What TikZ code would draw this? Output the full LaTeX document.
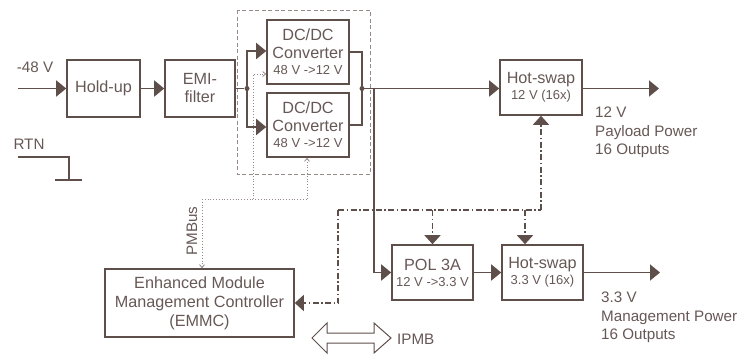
\documentclass[tikz,border=0pt]{standalone}
\usepackage{fontspec}
\setmainfont{Liberation Sans}
\usetikzlibrary{arrows.meta}
\definecolor{ink}{RGB}{94,79,75}
\definecolor{inktext}{RGB}{102,88,85}
\definecolor{soft}{RGB}{150,138,135}
\newcommand{\sm}{\fontsize{13}{15}\selectfont}
\begin{document}
\begin{tikzpicture}[x=1pt,y=-1pt,
  blk/.style={draw=ink, line width=1.6pt, inner sep=0pt, align=center,
    text=inktext, font=\fontsize{16.2}{18}\selectfont},
  lbl/.style={text=inktext, inner sep=0pt, font=\fontsize{15.2}{18.3}\selectfont},
  pwr/.style={draw=ink, line width=1.8pt, -{Triangle[length=10pt,width=16pt]}},
  wire/.style={draw=ink, line width=1.8pt},
  ctl/.style={draw=ink, line width=1.5pt,
    dash pattern=on 6pt off 2.5pt on 1.5pt off 2.5pt},
  ctlarr/.style={ctl, -{Triangle[length=9pt,width=16pt]}},
  bus/.style={draw=soft, line width=0.8pt, dotted},
  busarr/.style={bus, -{Straight Barb[length=3pt,width=5pt]}},
  dot/.style={circle, fill=ink, inner sep=0pt, minimum size=5pt}
]
\useasboundingbox (0,0) rectangle (755,354);

% blocks
\node[blk, minimum width=73pt, minimum height=57pt] (holdup) at (103.5,88.5) {Hold-up};
\node[blk, minimum width=70pt, minimum height=57pt] (emi) at (200,88.5) {EMI-\\filter};
\node[blk, minimum width=82pt, minimum height=64pt] (dc1) at (308,52)
  {DC/DC\\Converter\\[-2pt]{\sm 48 V ->12 V}};
\node[blk, minimum width=82pt, minimum height=64pt] (dc2) at (308,125)
  {DC/DC\\Converter\\[-2pt]{\sm 48 V ->12 V}};
\node[blk, minimum width=82pt, minimum height=55pt] (hs12) at (541,87.5)
  {Hot-swap\\[-2pt]{\sm 12 V (16x)}};
\node[blk, minimum width=81pt, minimum height=55pt] (pol) at (432.5,272.5)
  {POL 3A\\[-2pt]{\sm 12 V ->3.3 V}};
\node[blk, minimum width=81pt, minimum height=55pt] (hs33) at (542.5,272.5)
  {Hot-swap\\[-2pt]{\sm 3.3 V (16x)}};
\node[blk, minimum width=189pt, minimum height=68pt] (emmc) at (199.5,303)
  {Enhanced Module\\[1pt]Management Controller\\[1pt](EMMC)};

% redundant converter pair
\draw[soft, line width=0.9pt, dash pattern=on 4pt off 2.5pt] (237,10) rectangle (370,174);

% input side
\coordinate (vin) at (18,88.5);
\node[lbl] (vinlbl) at (35,67) {-48 V};
\draw[pwr] (vin) -- (holdup);
\draw[pwr] (holdup) -- (emi);
\node[dot] (j1) at (247,88.5) {};
\draw[wire] (emi) -- (j1);
\draw[pwr] (j1.center) |- (dc1.west |- 0,51);
\draw[pwr] (j1.center) |- (dc2.west |- 0,127);

% converter outputs
\node[dot] (j2) at (362,88.5) {};
\draw[wire] (dc1.east |- 0,52) -| (j2.center) |- (dc2.east |- 0,125);
\draw[pwr] (j2.center) -- (hs12.west |- j2);
\coordinate (tap) at (374,88.5);
\draw[pwr] (tap) |- (pol.west);
\draw[pwr] (pol) -- (hs33);

% outputs
\coordinate (out12) at (659,88.5);
\coordinate (out33) at (660,272.5);
\draw[pwr] (hs12.east |- out12) -- (out12);
\draw[pwr] (hs33) -- (out33);
\node[lbl, anchor=north west, align=left] (lbl12) at (595,107)
  {12 V\\Payload Power\\16 Outputs};
\node[lbl, anchor=north west, align=left] (lbl33) at (601,292)
  {3.3 V\\Management Power\\16 Outputs};

% return
\node[lbl] (rtn) at (29,144) {RTN};
\coordinate (r0) at (18,157);
\coordinate (r1) at (69,180);
\coordinate (g0) at (55,180);
\coordinate (g1) at (82,180);
\draw[ink, line width=1.5pt] (r0) -| (r1);
\draw[ink, line width=1.5pt] (g0) -- (g1);

% control signals
\coordinate (c0) at (338,303);
\coordinate (c1) at (338,210);
\coordinate (c2) at (541,210);
\coordinate (c3) at (432.5,210);
\coordinate (c4) at (525,210);
\draw[ctlarr] (c2) -- (hs12.south);
\draw[ctl] (c1) -- (c2);
\draw[ctlarr] (c1) -- (c0) -- (emmc.east);
\draw[ctlarr] (c3) -- (pol.north);
\draw[ctlarr] (c4) -- (hs33.north -| c4);

% PMBus
\coordinate (p0) at (202,199);
\coordinate (p1) at (253,199);
\coordinate (p2) at (307,199);
\draw[busarr] (p0) -- (emmc.north -| p0);
\draw[bus] (p0) -- (p2);
\draw[busarr] (p1) |- (dc1.west |- 0,74);
\draw[busarr] (p2) -- (dc2.south -| p2);
\node[lbl, rotate=90] (pmbus) at (192,231) {PMBus};

% IPMB
\draw[ink, line width=1pt] (312,338) -- (327,323) -- (327,333) -- (374,333) -- (374,323)
  -- (391,338) -- (374,353) -- (374,343) -- (327,343) -- (327,353) -- cycle;
\node[lbl, anchor=west] (ipmb) at (397,339) {IPMB};
\end{tikzpicture}
\end{document}
